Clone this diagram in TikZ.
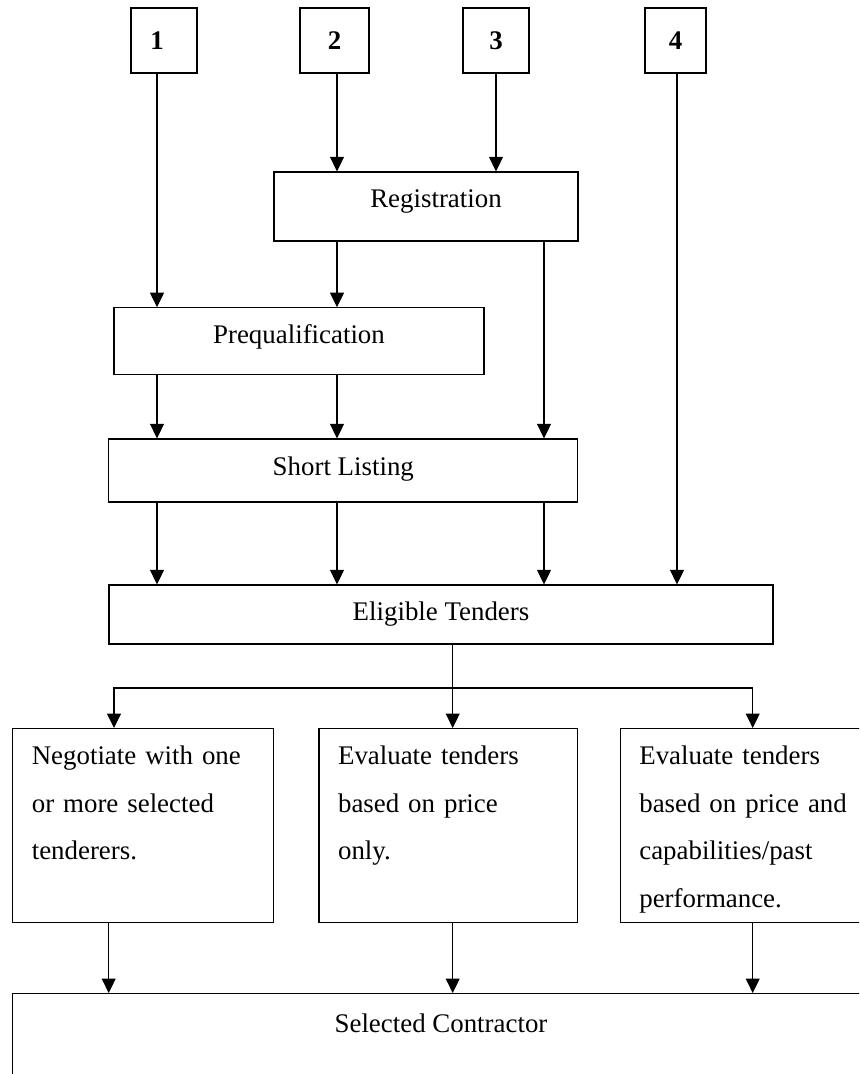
\documentclass[tikz,border=0pt]{standalone}
\usepackage{fontspec}
\setmainfont{Liberation Serif}
\usetikzlibrary{arrows.meta}

\begin{document}
\begin{tikzpicture}[x=0.02cm,y=-0.02cm]

    \tikzset{
      box/.style={
        draw,
        line width=0.7pt,
        inner sep=0pt,
        font=\fontsize{15.3pt}{27.1pt}\selectfont,
      },
      numbox/.style={
        box,
        font=\fontsize{15.3pt}{27.1pt}\selectfont\bfseries,
        minimum height=1.30cm,
      },
      linebox/.style={
        box,
        text height=0.38cm,
      },
      textbox/.style={
        box,
        anchor=north,
        align=left,
        inner xsep=0.38cm,
        inner ysep=0.2cm,
        text height=0.52cm,
        text depth=2.96cm,
      },
      arr/.style={
        line width=0.6pt,
        -{Triangle[length=0.29cm,width=0.28cm]},
      },
    }
    \useasboundingbox (0,0) rectangle (859,1074);
    \clip (0,0) rectangle (859,1074);

	\node[numbox,minimum width=1.32cm] (one) at (164,40.5) {1\hspace*{0.28cm}};
	\node[numbox,minimum width=1.38cm] (two) at (334.5,40.5) {2};
	\node[numbox,minimum width=1.32cm] (three) at (496,40.5) {3};
	\node[numbox,minimum width=1.22cm] (four) at (675.5,40.5) {4};

	\node[linebox,text depth=0.34cm,minimum width=6.08cm,minimum height=1.38cm] (reg) at (426,206.5) {\hspace*{0.4cm}Registration};
	\node[linebox,text depth=0.30cm,minimum width=7.40cm,minimum height=1.34cm] (pq) at (299,341.3) {Prequalification};
	\node[linebox,text depth=0.20cm,minimum width=9.38cm,minimum height=1.26cm] (sl) at (343.3,470.5) {Short Listing};
	\node[linebox,text depth=0.16cm,minimum width=13.28cm,minimum height=1.18cm] (el) at (441,614.5) {Eligible Tenders};

	\node[textbox,text width=4.46cm] (nego) at (143.3,728) {Negotiate with one\\or more selected\\tenderers.};
	\node[textbox,text width=4.41cm] (price) at (448.3,728) {Evaluate tenders\\based on price\\only.};
	\node[textbox,text width=4.44cm] (past) at (750.3,728) {Evaluate tenders\\based on price and\\capabilities/past\\performance.};
	\node[box,anchor=north,minimum width=17.13cm,inner ysep=0.2cm,text height=0.574cm,text depth=2cm] (sel) at (441,993) {Selected Contractor};

	\coordinate (c1) at (157,0);
	\coordinate (c2) at (337,0);
	\coordinate (c3) at (544,0);
	\coordinate (c4) at (677,0);
	\coordinate (colA) at (114,0);
	\coordinate (colC) at (752.7,0);
	\coordinate (colD) at (108.7,0);
	\coordinate (fork) at (452.7,688);

	\draw[arr] (one.south -| c1) -- (pq.north -| c1);
	\draw[arr] (two.south -| c2) -- (reg.north -| c2);
	\draw[arr] (three.south) -- (three.south |- reg.north);
	\draw[arr] (four.south -| c4) -- (el.north -| c4);
	\draw[arr] (reg.south -| c2) -- (pq.north -| c2);
	\draw[arr] (reg.south -| c3) -- (sl.north -| c3);
	\draw[arr] (pq.south -| c1) -- (sl.north -| c1);
	\draw[arr] (pq.south -| c2) -- (sl.north -| c2);
	\draw[arr] (sl.south -| c1) -- (el.north -| c1);
	\draw[arr] (sl.south -| c2) -- (el.north -| c2);
	\draw[arr] (sl.south -| c3) -- (el.north -| c3);

	\draw[arr] (el.south -| fork) -- (price.north -| fork);
	\draw[arr] (fork) -| (nego.north -| colA);
	\draw[arr] (fork) -| (past.north -| colC);

	\draw[arr] (nego.south -| colD) -- (sel.north -| colD);
	\draw[arr] (price.south -| fork) -- (sel.north -| fork);
	\draw[arr] (past.south -| colC) -- (sel.north -| colC);

\end{tikzpicture}
\end{document}
